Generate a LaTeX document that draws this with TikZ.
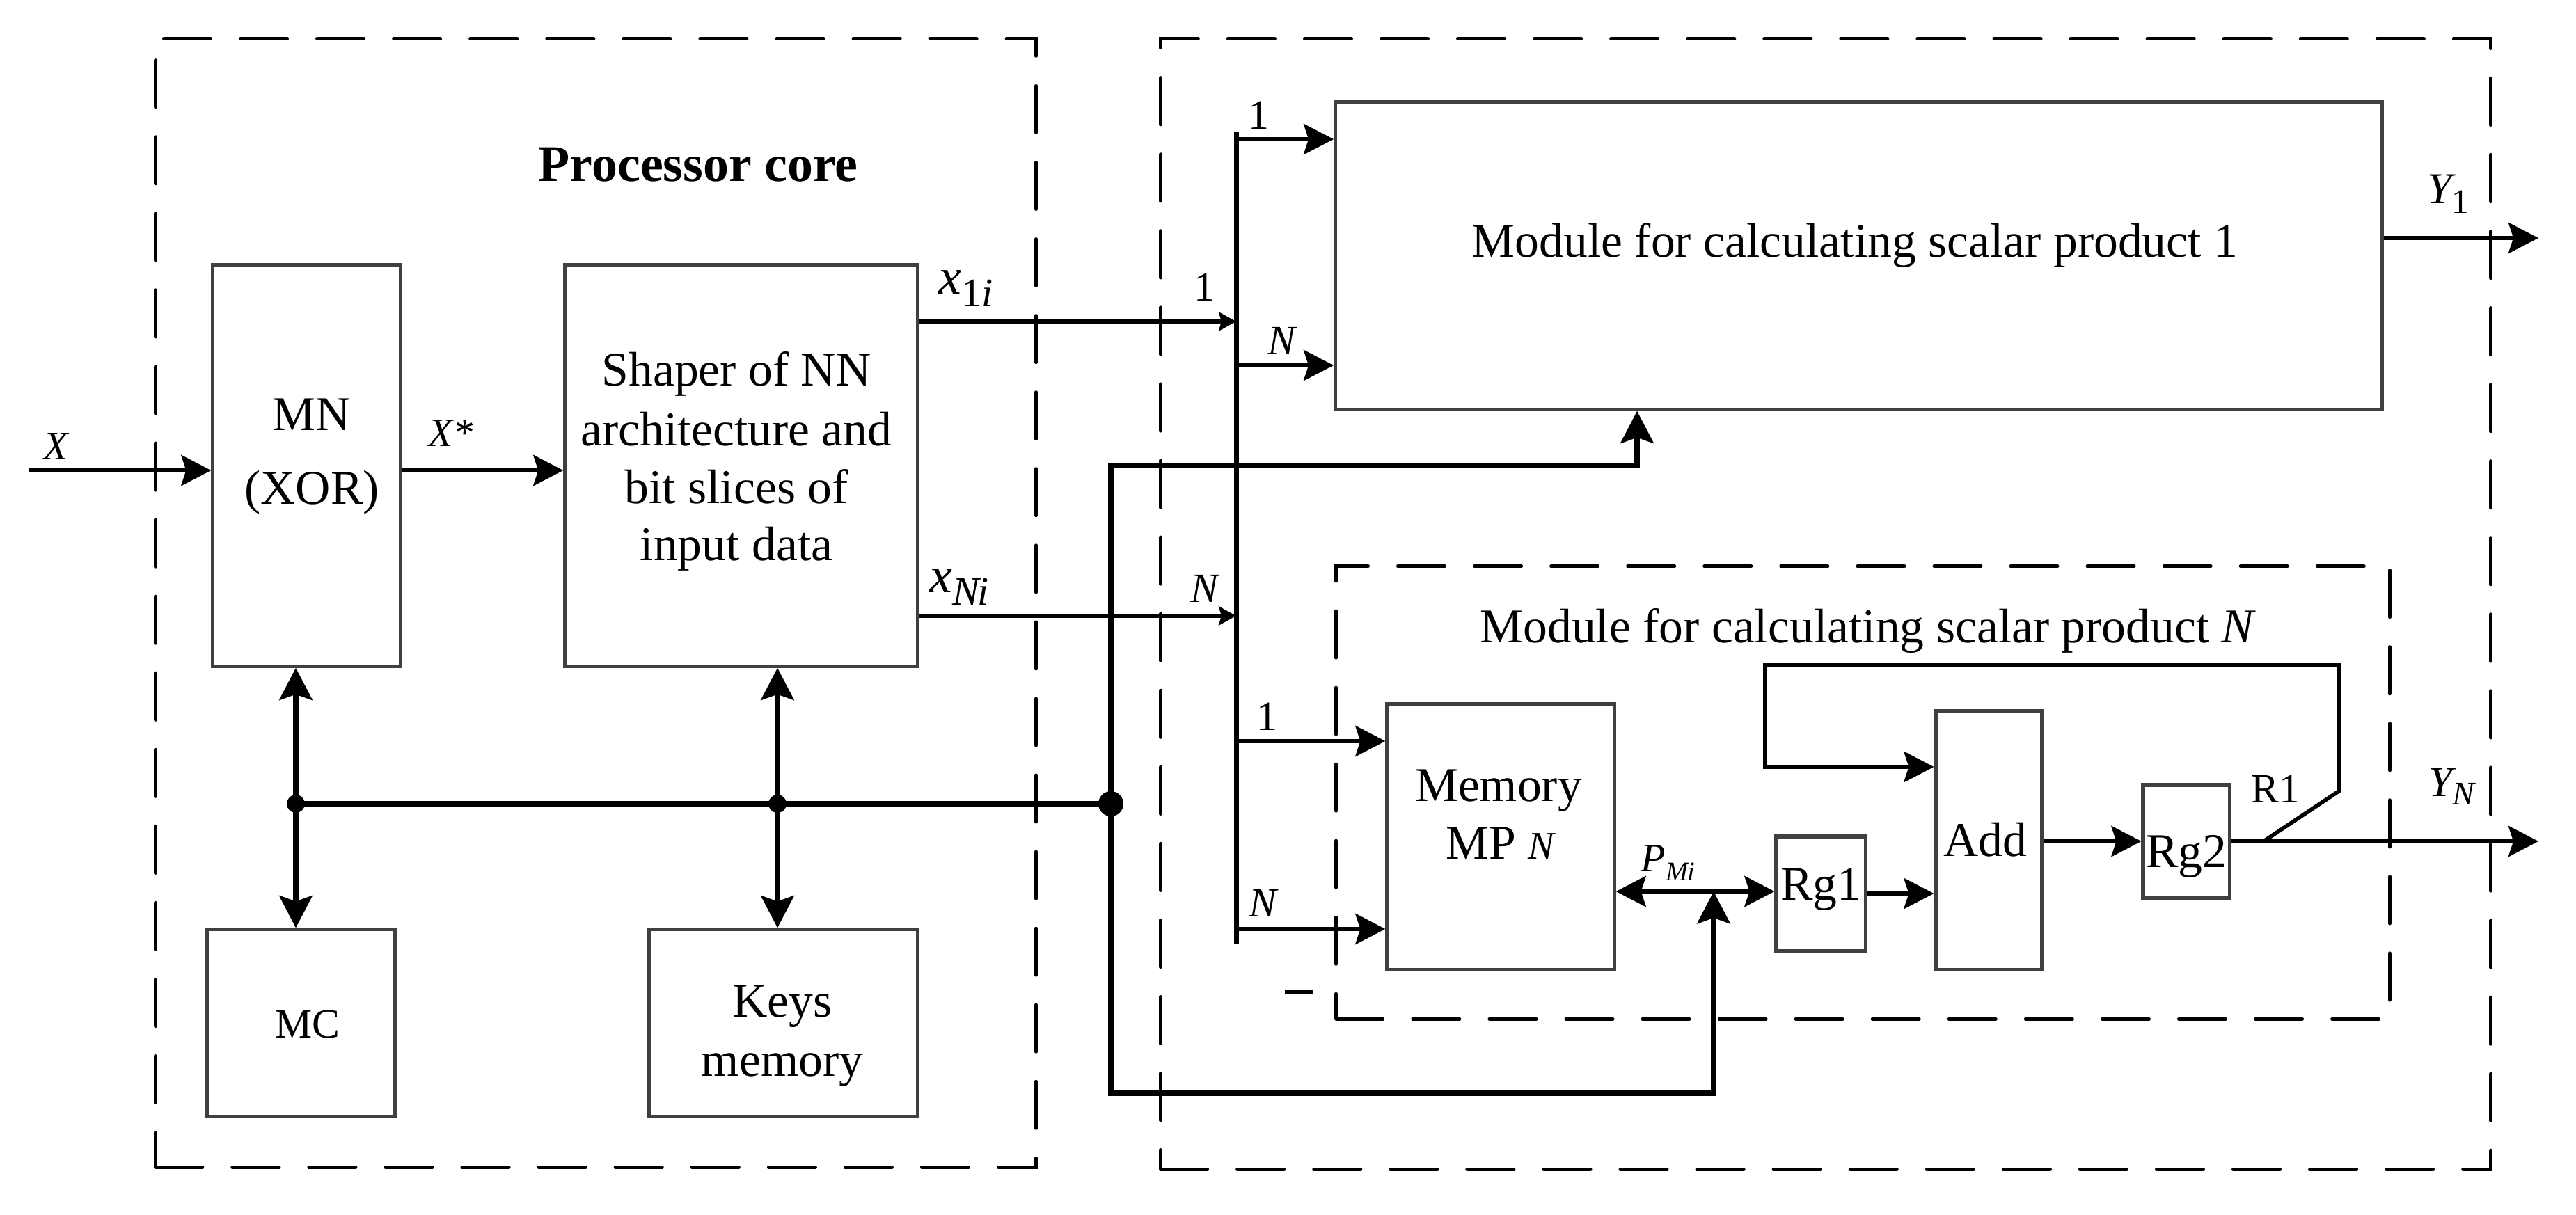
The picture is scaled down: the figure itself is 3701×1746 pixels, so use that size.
\documentclass[tikz,border=0pt]{standalone}
\usepackage{fontspec}
\setmainfont{Liberation Serif}
\usetikzlibrary{arrows.meta}
\definecolor{boxgray}{HTML}{404040}
\newcommand\lsub[3]{\raisebox{-#1}{\fontsize{#2}{#2}\selectfont #3}}
\begin{document}
\begin{tikzpicture}[x=0.01cm,y=-0.01cm,
  box/.style={draw=boxgray, line width=1.45pt, inner sep=0pt},
  dbox/.style={draw=black, line width=1.34pt, dash pattern=on 0.673cm off 0.427cm, line cap=round, inner sep=0pt},
  ln/.style={line width=1.6pt},
  busln/.style={line width=2pt},
  thk/.style={line width=2.4pt},
  bigarr/.style={-{Stealth[length=0.43cm,width=0.44cm,inset=0.07cm]}},
  dblarr/.style={{Stealth[length=0.43cm,width=0.44cm,inset=0.07cm]}-{Stealth[length=0.43cm,width=0.44cm,inset=0.07cm]}},
  thkarr/.style={-{Stealth[length=0.46cm,width=0.47cm,inset=0.08cm]}},
  thkdbl/.style={{Stealth[length=0.46cm,width=0.47cm,inset=0.08cm]}-{Stealth[length=0.46cm,width=0.47cm,inset=0.08cm]}},
  smarr/.style={-{Stealth[length=0.25cm,width=0.27cm,inset=0.04cm]}},
  txt/.style={inner sep=0pt, anchor=base, font=\fontsize{19.8}{24}\selectfont},
  lab/.style={inner sep=0pt, anchor=base, font=\fontsize{17}{20}\selectfont},
]
\fill[white] (0,0) rectangle (3701,1746);
\useasboundingbox (0,0) rectangle (3701,1746);

% dashed containers
\node[dbox, minimum width=12.64cm, minimum height=16.21cm] (pc) at (856,866.5) {};
\node[dbox, minimum width=19.10cm, minimum height=16.24cm] (outer) at (2623,868) {};
\node[dbox, minimum width=15.13cm, minimum height=6.50cm] (mN) at (2676.5,1139) {};

% boxes
\node[box, minimum width=2.69cm, minimum height=5.76cm] (mn) at (440.5,669) {};
\node[box, minimum width=5.06cm, minimum height=5.76cm] (shp) at (1065,669) {};
\node[box, minimum width=2.69cm, minimum height=2.68cm] (mc) at (432.5,1470) {};
\node[box, minimum width=3.85cm, minimum height=2.68cm] (keys) at (1125.5,1470) {};
\node[box, minimum width=15.03cm, minimum height=4.41cm] (m1) at (2670.5,367.5) {};
\node[box, minimum width=3.26cm, minimum height=3.81cm] (mem) at (2156,1202.5) {};
\node[box, minimum width=1.28cm, minimum height=1.64cm] (rg1) at (2616,1284) {};
\node[box, minimum width=1.52cm, minimum height=3.71cm] (add) at (2857,1207.5) {};
\node[box, minimum width=1.24cm, minimum height=1.62cm] (rg2) at (3141,1209) {};

% texts
\node[inner sep=0pt, anchor=base, font=\fontsize{21}{24}\selectfont\bfseries] (pct) at (1003,261) {Processor core};
\node[txt] (mnt1) at (448,619) {MN};
\node[txt] (mnt2) at (448,724) {(XOR)};
\node[txt] (sh1) at (1058,555) {Shaper of NN};
\node[txt] (sh2) at (1058,640) {architecture and};
\node[txt] (sh3) at (1058,723) {bit slices of};
\node[txt] (sh4) at (1058,805) {input data};
\node[txt, font=\fontsize{17}{20}\selectfont] (mct) at (442,1491) {MC};
\node[txt] (ky1) at (1124,1461) {Keys};
\node[txt] (ky2) at (1124,1546) {memory};
\node[txt] (m1t) at (2665,370) {Module for calculating scalar product 1};
\node[txt] (mNt) at (2684,923) {Module for calculating scalar product \textit{N}};
\node[txt] (memt1) at (2153,1151) {Memory};
\node[txt] (memt2) at (2155,1234) {MP {\fontsize{16}{16}\selectfont\itshape N}};
\node[txt] (rg1t) at (2616,1293) {Rg1};
\node[txt] (addt) at (2852,1230) {Add};
\node[txt] (rg2t) at (3141,1246) {Rg2};
\node[lab] (r1t) at (3269,1153) {R1};

% labels
\node[lab, font=\fontsize{16.5}{20}\selectfont\itshape] (lX) at (80,660) {X};
\node[lab, font=\fontsize{16.5}{20}\selectfont] (lXs) at (649,641) {\textit{X}*};
\node[inner sep=0pt, anchor=base west, font=\fontsize{21}{24}\selectfont\itshape] (lx1) at (1348,423) {x\lsub{5pt}{16.5}{\upshape 1\itshape i}};
\node[inner sep=0pt, anchor=base west, font=\fontsize{21}{24}\selectfont\itshape] (lxN) at (1335,851) {x\lsub{5.3pt}{16.5}{N\kern-0.05em i}};
\node[lab] (l1a) at (1730,433) {1};
\node[lab, font=\fontsize{17}{20}\selectfont\itshape] (lNa) at (1730,865) {N};
\node[lab] (l1b) at (1808,186) {1};
\node[lab, font=\fontsize{17}{20}\selectfont\itshape] (lNb) at (1841,510) {N};
\node[lab] (l1c) at (1820,1049) {1};
\node[lab, font=\fontsize{17}{20}\selectfont\itshape] (lNc) at (1814,1317) {N};
\node[inner sep=0pt, anchor=base west, font=\fontsize{18}{20}\selectfont\itshape] (lY1) at (3487,293) {Y\lsub{3.7pt}{14}{\upshape 1}};
\node[inner sep=0pt, anchor=base west, font=\fontsize{17.5}{20}\selectfont\itshape] (lYN) at (3489,1144) {Y\lsub{3.5pt}{13.5}{N}};
\node[inner sep=0pt, anchor=base west, font=\fontsize{16.5}{20}\selectfont\itshape] (lP) at (2357,1252) {P\lsub{3.7pt}{11}{M\kern-0.03em i}};

% coordinates
\coordinate (xin) at (42,676);
\coordinate (bus1) at (1776,462);
\coordinate (busN) at (1776,885);
\coordinate (bustop) at (1776,189);
\coordinate (busbot) at (1776,1356);
\coordinate (t1) at (1776,200);
\coordinate (tN) at (1776,525);
\coordinate (u1) at (1776,1065);
\coordinate (uN) at (1776,1335);
\coordinate (d1) at (425,1155);
\coordinate (d2) at (1117,1155);
\coordinate (dbig) at (1596,1155);
\coordinate (r1) at (1596,669);
\coordinate (r2) at (2352,669);
\coordinate (r3) at (1596,1571);
\coordinate (r4) at (2462,1571);
\coordinate (pj) at (2462,1281);
\coordinate (y1) at (3647,342);
\coordinate (yn) at (3647,1209);
\coordinate (fb0) at (3252,1209);
\coordinate (fb1) at (3360,1137);
\coordinate (fb2) at (3360,956);
\coordinate (fb3) at (2536,956);
\coordinate (fb4) at (2536,1102);
\coordinate (mi1) at (1846,1425);
\coordinate (mi2) at (1887,1425);

% processor core connectors
\draw[ln,bigarr] (xin) -- (mn.west |- xin);
\draw[ln,bigarr] (mn.east |- xin) -- (shp.west |- xin);
\draw[ln,smarr] (shp.east |- bus1) -- (bus1);
\draw[ln,smarr] (shp.east |- busN) -- (busN);
\draw[thk] (d1) -- (dbig);
\draw[thk,thkdbl] (mn.south -| d1) -- (mc.north -| d1);
\draw[thk,thkdbl] (shp.south -| d2) -- (keys.north -| d2);
\fill (d1) circle[radius=0.13cm];
\fill (d2) circle[radius=0.13cm];
\fill (dbig) circle[radius=0.18cm];

% distribution bus
\draw[busln] (bustop) -- (busbot);
\draw[ln,bigarr] (t1) -- (m1.west |- t1);
\draw[ln,bigarr] (tN) -- (m1.west |- tN);
\draw[ln,bigarr] (u1) -- (mem.west |- u1);
\draw[ln,bigarr] (uN) -- (mem.west |- uN);

% control routes
\draw[thk,thkarr] (dbig) -- (r1) -- (r2) -- (m1.south -| r2);
\draw[thk,thkarr] (dbig) -- (r3) -- (r4) -- (pj);

% module N internals
\draw[ln,dblarr] (mem.east |- pj) -- (rg1.west |- pj);
\draw[ln,bigarr] (rg1.east) -- (add.west |- rg1.east);
\draw[ln,bigarr] (add.east |- rg2.west) -- (rg2.west);
\draw[ln,bigarr] (rg2.east) -- (yn);
\draw[ln,bigarr,line join=miter] (fb0) -- (fb1) -- (fb2) -- (fb3) -- (fb4) -- (add.west |- fb4);
\draw[ln,bigarr] (m1.east |- y1) -- (y1);
\draw[line width=1.8pt] (mi1) -- (mi2);
\end{tikzpicture}
\end{document}
